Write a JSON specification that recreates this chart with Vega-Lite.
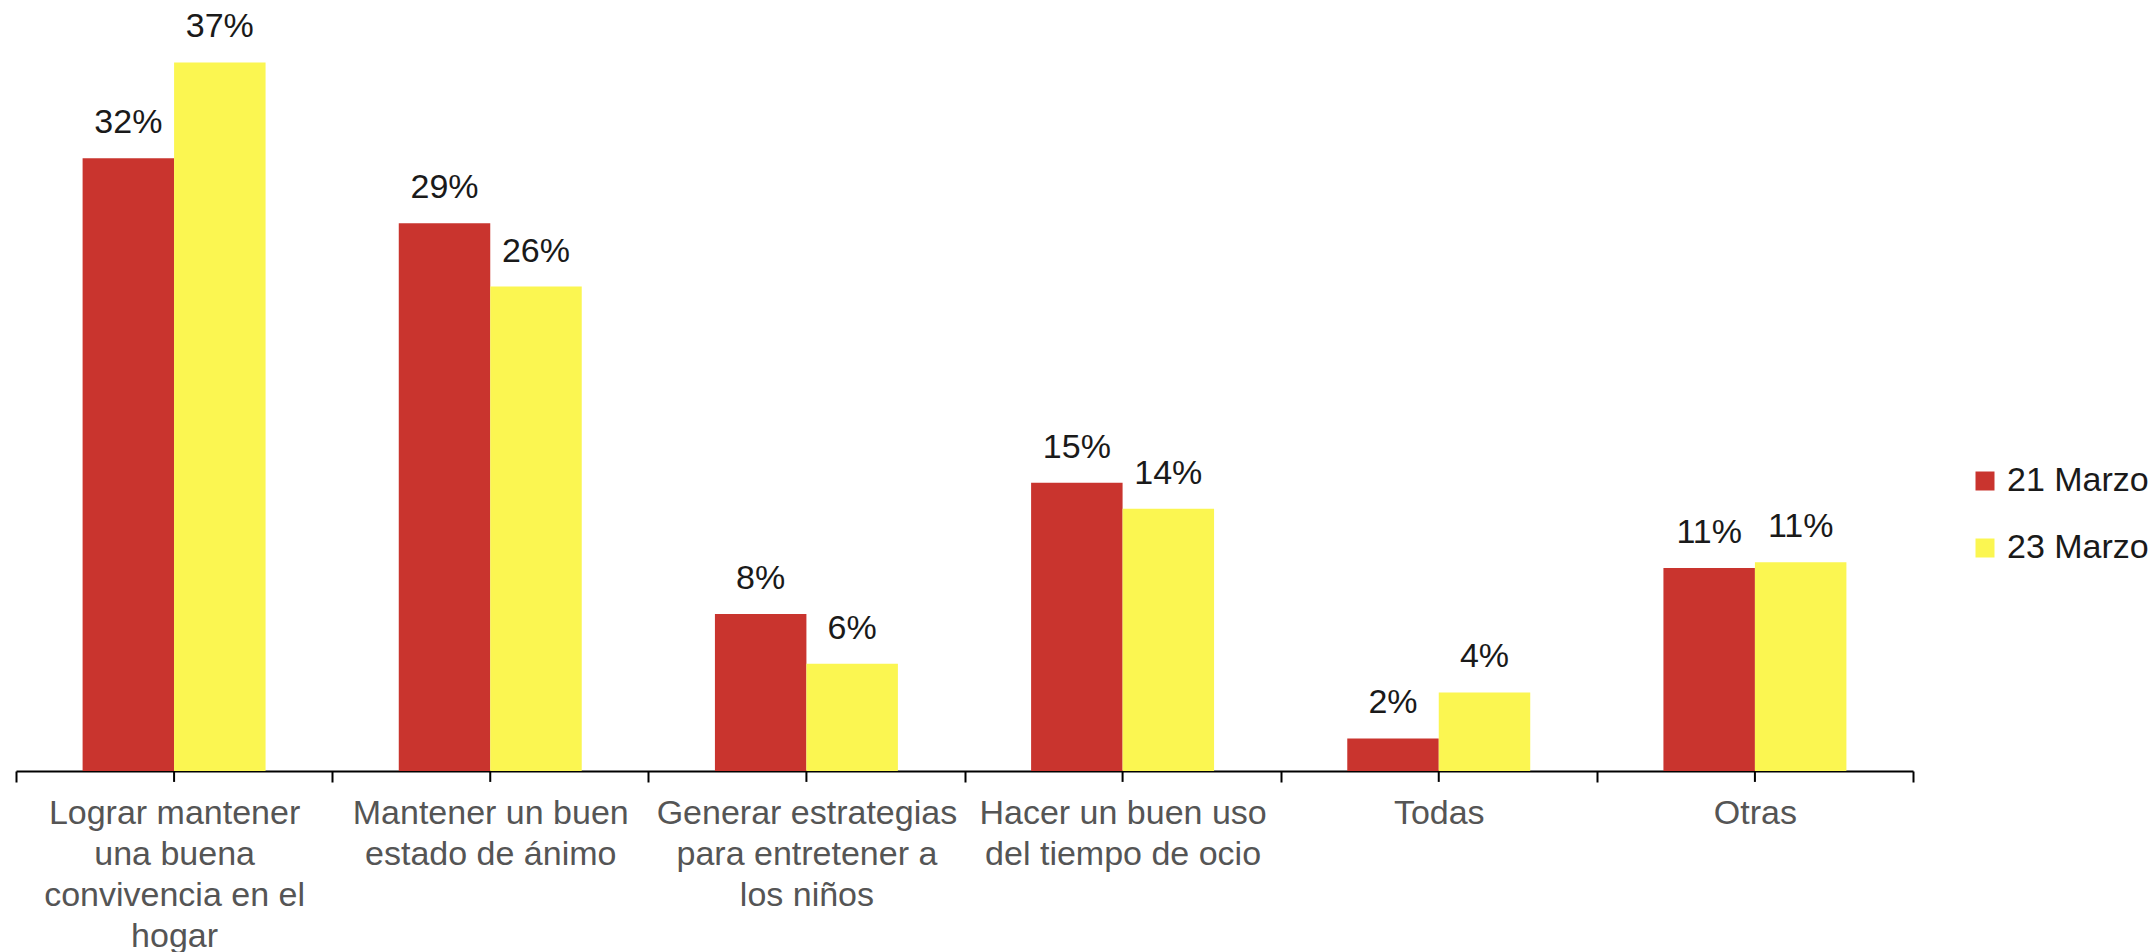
{
  "$schema": "https://vega.github.io/schema/vega-lite/v6.json",
  "width": 1897,
  "height": 766,
  "autosize": {"type": "none"},
  "padding": {"left": 16, "top": 5, "right": 240, "bottom": 181},
  "background": "white",
  "config": {
    "view": {"stroke": null},
    "font": "Liberation Sans"
  },
  "data": {
    "values": [
      {"category": "Lograr mantener una buena convivencia en el hogar", "date": "21 Marzo", "value": 32.0, "label": "32%"},
      {"category": "Lograr mantener una buena convivencia en el hogar", "date": "23 Marzo", "value": 37.0, "label": "37%"},
      {"category": "Mantener un buen estado de ánimo", "date": "21 Marzo", "value": 28.6, "label": "29%"},
      {"category": "Mantener un buen estado de ánimo", "date": "23 Marzo", "value": 25.3, "label": "26%"},
      {"category": "Generar estrategias para entretener a los niños", "date": "21 Marzo", "value": 8.2, "label": "8%"},
      {"category": "Generar estrategias para entretener a los niños", "date": "23 Marzo", "value": 5.6, "label": "6%"},
      {"category": "Hacer un buen uso del tiempo de ocio", "date": "21 Marzo", "value": 15.05, "label": "15%"},
      {"category": "Hacer un buen uso del tiempo de ocio", "date": "23 Marzo", "value": 13.7, "label": "14%"},
      {"category": "Todas", "date": "21 Marzo", "value": 1.7, "label": "2%"},
      {"category": "Todas", "date": "23 Marzo", "value": 4.1, "label": "4%"},
      {"category": "Otras", "date": "21 Marzo", "value": 10.6, "label": "11%"},
      {"category": "Otras", "date": "23 Marzo", "value": 10.9, "label": "11%"}
    ]
  },
  "encoding": {
    "x": {
      "field": "category",
      "type": "nominal",
      "sort": null,
      "scale": {"paddingInner": 0, "paddingOuter": 0},
      "axis": {
        "title": null,
        "labelAngle": 0,
        "tickBand": "extent",
        "domainColor": "#000000",
        "domainWidth": 2,
        "tickColor": "#000000",
        "tickWidth": 2,
        "tickSize": 11,
        "labelPadding": 14,
        "labelFontSize": 34,
        "labelColor": "#555555",
        "labelLineHeight": 41,
        "labelLimit": 0,
        "labelFont": "Liberation Sans",
        "labelExpr": "datum.value == 'Lograr mantener una buena convivencia en el hogar' ? ['Lograr mantener','una buena','convivencia en el','hogar'] : datum.value == 'Mantener un buen estado de ánimo' ? ['Mantener un buen','estado de ánimo'] : datum.value == 'Generar estrategias para entretener a los niños' ? ['Generar estrategias','para entretener a','los niños'] : datum.value == 'Hacer un buen uso del tiempo de ocio' ? ['Hacer un buen uso','del tiempo de ocio'] : datum.value"
      }
    },
    "y": {
      "field": "value",
      "type": "quantitative",
      "scale": {"domain": [0, 40], "nice": false, "zero": true},
      "axis": null
    }
  },
  "layer": [
    {
      "mark": {"type": "bar"},
      "encoding": {
        "xOffset": {
          "field": "date",
          "type": "nominal",
          "scale": {"paddingInner": 0, "paddingOuter": 0.728}
        },
        "color": {
          "field": "date",
          "type": "nominal",
          "scale": {"domain": ["21 Marzo", "23 Marzo"], "range": ["#C9342E", "#FBF651"]},
          "legend": {
            "title": null,
            "orient": "none",
            "legendX": 1952,
            "legendY": 459,
            "padding": 0,
            "symbolType": "square",
            "symbolSize": 361,
            "symbolStrokeWidth": 0,
            "labelFontSize": 34,
            "labelColor": "#1a1a1a",
            "labelFont": "Liberation Sans",
            "labelOffset": 5,
            "rowPadding": 33,
            "labelLimit": 0
          }
        }
      }
    },
    {
      "mark": {"type": "text", "baseline": "alphabetic", "dy": -25, "fontSize": 34, "color": "#1a1a1a", "font": "Liberation Sans"},
      "encoding": {
        "xOffset": {
          "field": "date",
          "type": "nominal",
          "scale": {"paddingInner": 0, "paddingOuter": 0.728}
        },
        "text": {"field": "label"}
      }
    },
    {
      "transform": [{"filter": "datum.date == '21 Marzo'"}],
      "mark": {"type": "rule", "color": "#000000", "strokeWidth": 2},
      "encoding": {
        "y": {"datum": 0},
        "y2": {"datum": -0.57}
      }
    }
  ]
}
